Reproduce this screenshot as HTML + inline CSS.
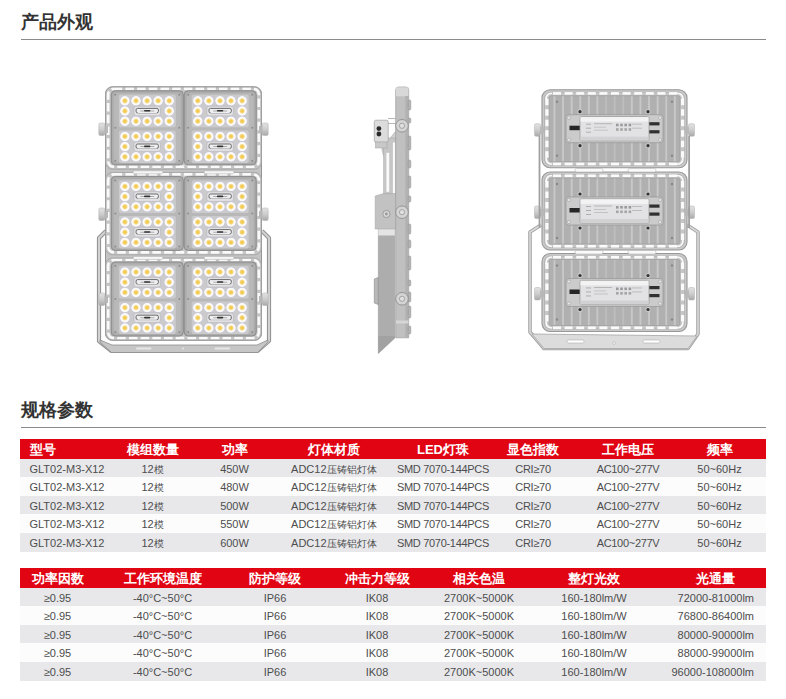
<!DOCTYPE html>
<html><head><meta charset="utf-8"><style>
html,body{margin:0;padding:0;background:#fff;width:786px;height:699px;overflow:hidden;position:relative}
body{font-family:"Liberation Sans",sans-serif}
.t{position:absolute;left:21px;font-size:18px;font-weight:bold;color:#333;line-height:24px;white-space:nowrap}
.ln{position:absolute;left:21px;width:745px;height:1px;background:#8a8a8a}
.hd{position:absolute;left:20px;width:746px;height:20px;background:#e10514}
.rw{position:absolute;left:20px;width:746px}
.g{background:#e8e8eb} .l{background:#fcfcfc}
.th{position:absolute;width:200px;text-align:center;color:#fff;font-size:13px;font-weight:bold;white-space:nowrap}
.td{position:absolute;width:200px;text-align:center;color:#4d4d4d;font-size:11px;white-space:nowrap}
.c{font-size:10px}
</style></head><body>
<div class="t" style="top:10px">产品外观</div>
<div class="ln" style="top:39px"></div>
<svg style="position:absolute;left:0;top:0" width="786" height="400" viewBox="0 0 786 400"><defs><linearGradient id="knob" x1="0" y1="0" x2="0" y2="1"><stop offset="0" stop-color="#e2e2e2"/><stop offset="0.5" stop-color="#cdcdcd"/><stop offset="1" stop-color="#a9a9a9"/></linearGradient><radialGradient id="ledg"><stop offset="0" stop-color="#f1c84a"/><stop offset="0.28" stop-color="#f3ce5c"/><stop offset="0.48" stop-color="#f8e6b2"/><stop offset="0.6" stop-color="#fefcf5"/><stop offset="0.84" stop-color="#f8f7fb"/><stop offset="1" stop-color="#ccc8dc"/></radialGradient></defs><path d="M106 231 L99 238 L99 341 L111.5 351 L257.5 351 L269 341 L269 238 L262 231" fill="none" stroke="#959595" stroke-width="4.2" stroke-linejoin="round"/><path d="M106 231 L99 238 L99 341 L111.5 351 L257.5 351 L269 341 L269 238 L262 231" fill="none" stroke="#d2d2d2" stroke-width="2" stroke-linejoin="round"/><path d="M100 340 L112 345 L257 345 L268 340 L268 342 L257.5 352.5 L111.5 352.5 L100 342 Z" fill="#c6c6c6" stroke="#8e8e8e" stroke-width="0.8"/><rect x="136" y="347.5" width="15.5" height="2" rx="1" fill="#e6e6e6"/><rect x="214.5" y="347.5" width="15.5" height="2" rx="1" fill="#e6e6e6"/><circle cx="183" cy="348.5" r="1" fill="#e6e6e6"/><rect x="105.5" y="86.8" width="156" height="253.5" rx="7" fill="#c4c4c4" stroke="#959595" stroke-width="1"/><rect x="108.2" y="88.8" width="150.6" height="78" rx="5.5" fill="none" stroke="#fafafa" stroke-width="2.6" stroke-dasharray="8.5 3.2"/><rect x="105.5" y="86.8" width="156" height="82.4" rx="7" fill="none" stroke="#a2a2a2" stroke-width="0.8"/><rect x="111.3" y="90.8" width="72" height="74" rx="4" fill="#acacac" stroke="#8a8a8a" stroke-width="1"/><rect x="113.8" y="93.3" width="67" height="69" rx="3" fill="#b8b8b8"/><rect x="118.8" y="94.8" width="57" height="32.5" rx="2" fill="#cbcbce"/><circle cx="124.9" cy="100.8" r="5.1" fill="url(#ledg)"/><circle cx="136.0" cy="100.8" r="5.1" fill="url(#ledg)"/><circle cx="147.1" cy="100.8" r="5.1" fill="url(#ledg)"/><circle cx="158.1" cy="100.8" r="5.1" fill="url(#ledg)"/><circle cx="169.2" cy="100.8" r="5.1" fill="url(#ledg)"/><circle cx="124.9" cy="111.0" r="5.1" fill="url(#ledg)"/><circle cx="169.2" cy="111.0" r="5.1" fill="url(#ledg)"/><circle cx="124.9" cy="121.2" r="5.1" fill="url(#ledg)"/><circle cx="136.0" cy="121.2" r="5.1" fill="url(#ledg)"/><circle cx="147.1" cy="121.2" r="5.1" fill="url(#ledg)"/><circle cx="158.1" cy="121.2" r="5.1" fill="url(#ledg)"/><circle cx="169.2" cy="121.2" r="5.1" fill="url(#ledg)"/><rect x="133.9" y="106.2" width="26.7" height="9.6" rx="2.5" fill="#e2e2e5" stroke="#b4b4b8" stroke-width="0.6"/><rect x="136.1" y="108.4" width="22.3" height="4.4" rx="1.5" fill="#efeff1" stroke="#5c5c5c" stroke-width="0.9"/><rect x="137.8" y="109.5" width="19" height="3.5" fill="#efeff1"/><rect x="140.3" y="110.6" width="14" height="0.8" fill="#9a9a9a"/><rect x="144.0" y="110.0" width="6.4" height="1.6" rx="0.8" fill="#333"/><rect x="118.8" y="130.4" width="57" height="32.5" rx="2" fill="#cbcbce"/><circle cx="124.9" cy="136.4" r="5.1" fill="url(#ledg)"/><circle cx="136.0" cy="136.4" r="5.1" fill="url(#ledg)"/><circle cx="147.1" cy="136.4" r="5.1" fill="url(#ledg)"/><circle cx="158.1" cy="136.4" r="5.1" fill="url(#ledg)"/><circle cx="169.2" cy="136.4" r="5.1" fill="url(#ledg)"/><circle cx="124.9" cy="146.6" r="5.1" fill="url(#ledg)"/><circle cx="169.2" cy="146.6" r="5.1" fill="url(#ledg)"/><circle cx="124.9" cy="156.8" r="5.1" fill="url(#ledg)"/><circle cx="136.0" cy="156.8" r="5.1" fill="url(#ledg)"/><circle cx="147.1" cy="156.8" r="5.1" fill="url(#ledg)"/><circle cx="158.1" cy="156.8" r="5.1" fill="url(#ledg)"/><circle cx="169.2" cy="156.8" r="5.1" fill="url(#ledg)"/><rect x="133.9" y="141.79999999999998" width="26.7" height="9.6" rx="2.5" fill="#e2e2e5" stroke="#b4b4b8" stroke-width="0.6"/><rect x="136.1" y="144.0" width="22.3" height="4.4" rx="1.5" fill="#efeff1" stroke="#5c5c5c" stroke-width="0.9"/><rect x="137.8" y="145.1" width="19" height="3.5" fill="#efeff1"/><rect x="140.3" y="146.2" width="14" height="0.8" fill="#9a9a9a"/><rect x="144.0" y="145.6" width="6.4" height="1.6" rx="0.8" fill="#333"/><circle cx="115.3" cy="94.8" r="1" fill="#8d8d8d"/><circle cx="179.3" cy="94.8" r="1" fill="#8d8d8d"/><circle cx="115.3" cy="160.8" r="1" fill="#8d8d8d"/><circle cx="179.3" cy="160.8" r="1" fill="#8d8d8d"/><circle cx="115.3" cy="127.8" r="1" fill="#8d8d8d"/><circle cx="179.3" cy="127.8" r="1" fill="#8d8d8d"/><rect x="184.2" y="90.8" width="72" height="74" rx="4" fill="#acacac" stroke="#8a8a8a" stroke-width="1"/><rect x="186.7" y="93.3" width="67" height="69" rx="3" fill="#b8b8b8"/><rect x="191.7" y="94.8" width="57" height="32.5" rx="2" fill="#cbcbce"/><circle cx="197.8" cy="100.8" r="5.1" fill="url(#ledg)"/><circle cx="208.9" cy="100.8" r="5.1" fill="url(#ledg)"/><circle cx="220.0" cy="100.8" r="5.1" fill="url(#ledg)"/><circle cx="231.0" cy="100.8" r="5.1" fill="url(#ledg)"/><circle cx="242.1" cy="100.8" r="5.1" fill="url(#ledg)"/><circle cx="197.8" cy="111.0" r="5.1" fill="url(#ledg)"/><circle cx="242.1" cy="111.0" r="5.1" fill="url(#ledg)"/><circle cx="197.8" cy="121.2" r="5.1" fill="url(#ledg)"/><circle cx="208.9" cy="121.2" r="5.1" fill="url(#ledg)"/><circle cx="220.0" cy="121.2" r="5.1" fill="url(#ledg)"/><circle cx="231.0" cy="121.2" r="5.1" fill="url(#ledg)"/><circle cx="242.1" cy="121.2" r="5.1" fill="url(#ledg)"/><rect x="206.79999999999998" y="106.2" width="26.7" height="9.6" rx="2.5" fill="#e2e2e5" stroke="#b4b4b8" stroke-width="0.6"/><rect x="209.0" y="108.4" width="22.3" height="4.4" rx="1.5" fill="#efeff1" stroke="#5c5c5c" stroke-width="0.9"/><rect x="210.7" y="109.5" width="19" height="3.5" fill="#efeff1"/><rect x="213.2" y="110.6" width="14" height="0.8" fill="#9a9a9a"/><rect x="216.89999999999998" y="110.0" width="6.4" height="1.6" rx="0.8" fill="#333"/><rect x="191.7" y="130.4" width="57" height="32.5" rx="2" fill="#cbcbce"/><circle cx="197.8" cy="136.4" r="5.1" fill="url(#ledg)"/><circle cx="208.9" cy="136.4" r="5.1" fill="url(#ledg)"/><circle cx="220.0" cy="136.4" r="5.1" fill="url(#ledg)"/><circle cx="231.0" cy="136.4" r="5.1" fill="url(#ledg)"/><circle cx="242.1" cy="136.4" r="5.1" fill="url(#ledg)"/><circle cx="197.8" cy="146.6" r="5.1" fill="url(#ledg)"/><circle cx="242.1" cy="146.6" r="5.1" fill="url(#ledg)"/><circle cx="197.8" cy="156.8" r="5.1" fill="url(#ledg)"/><circle cx="208.9" cy="156.8" r="5.1" fill="url(#ledg)"/><circle cx="220.0" cy="156.8" r="5.1" fill="url(#ledg)"/><circle cx="231.0" cy="156.8" r="5.1" fill="url(#ledg)"/><circle cx="242.1" cy="156.8" r="5.1" fill="url(#ledg)"/><rect x="206.79999999999998" y="141.79999999999998" width="26.7" height="9.6" rx="2.5" fill="#e2e2e5" stroke="#b4b4b8" stroke-width="0.6"/><rect x="209.0" y="144.0" width="22.3" height="4.4" rx="1.5" fill="#efeff1" stroke="#5c5c5c" stroke-width="0.9"/><rect x="210.7" y="145.1" width="19" height="3.5" fill="#efeff1"/><rect x="213.2" y="146.2" width="14" height="0.8" fill="#9a9a9a"/><rect x="216.89999999999998" y="145.6" width="6.4" height="1.6" rx="0.8" fill="#333"/><circle cx="188.2" cy="94.8" r="1" fill="#8d8d8d"/><circle cx="252.2" cy="94.8" r="1" fill="#8d8d8d"/><circle cx="188.2" cy="160.8" r="1" fill="#8d8d8d"/><circle cx="252.2" cy="160.8" r="1" fill="#8d8d8d"/><circle cx="188.2" cy="127.8" r="1" fill="#8d8d8d"/><circle cx="252.2" cy="127.8" r="1" fill="#8d8d8d"/><rect x="104" y="126" width="4" height="7" fill="#b8b8b8"/><rect x="259" y="126" width="4" height="7" fill="#b8b8b8"/><rect x="98.8" y="123" width="6" height="12.5" rx="1.5" fill="url(#knob)" stroke="#b0b0b0" stroke-width="0.5"/><rect x="262.2" y="123" width="6" height="12.5" rx="1.5" fill="url(#knob)" stroke="#b0b0b0" stroke-width="0.5"/><rect x="108.2" y="174.4" width="150.6" height="78" rx="5.5" fill="none" stroke="#fafafa" stroke-width="2.6" stroke-dasharray="8.5 3.2"/><rect x="105.5" y="172.4" width="156" height="82.4" rx="7" fill="none" stroke="#a2a2a2" stroke-width="0.8"/><rect x="111.3" y="176.4" width="72" height="74" rx="4" fill="#acacac" stroke="#8a8a8a" stroke-width="1"/><rect x="113.8" y="178.9" width="67" height="69" rx="3" fill="#b8b8b8"/><rect x="118.8" y="180.4" width="57" height="32.5" rx="2" fill="#cbcbce"/><circle cx="124.9" cy="186.4" r="5.1" fill="url(#ledg)"/><circle cx="136.0" cy="186.4" r="5.1" fill="url(#ledg)"/><circle cx="147.1" cy="186.4" r="5.1" fill="url(#ledg)"/><circle cx="158.1" cy="186.4" r="5.1" fill="url(#ledg)"/><circle cx="169.2" cy="186.4" r="5.1" fill="url(#ledg)"/><circle cx="124.9" cy="196.6" r="5.1" fill="url(#ledg)"/><circle cx="169.2" cy="196.6" r="5.1" fill="url(#ledg)"/><circle cx="124.9" cy="206.8" r="5.1" fill="url(#ledg)"/><circle cx="136.0" cy="206.8" r="5.1" fill="url(#ledg)"/><circle cx="147.1" cy="206.8" r="5.1" fill="url(#ledg)"/><circle cx="158.1" cy="206.8" r="5.1" fill="url(#ledg)"/><circle cx="169.2" cy="206.8" r="5.1" fill="url(#ledg)"/><rect x="133.9" y="191.79999999999998" width="26.7" height="9.6" rx="2.5" fill="#e2e2e5" stroke="#b4b4b8" stroke-width="0.6"/><rect x="136.1" y="194.0" width="22.3" height="4.4" rx="1.5" fill="#efeff1" stroke="#5c5c5c" stroke-width="0.9"/><rect x="137.8" y="195.1" width="19" height="3.5" fill="#efeff1"/><rect x="140.3" y="196.2" width="14" height="0.8" fill="#9a9a9a"/><rect x="144.0" y="195.6" width="6.4" height="1.6" rx="0.8" fill="#333"/><rect x="118.8" y="216.0" width="57" height="32.5" rx="2" fill="#cbcbce"/><circle cx="124.9" cy="222.0" r="5.1" fill="url(#ledg)"/><circle cx="136.0" cy="222.0" r="5.1" fill="url(#ledg)"/><circle cx="147.1" cy="222.0" r="5.1" fill="url(#ledg)"/><circle cx="158.1" cy="222.0" r="5.1" fill="url(#ledg)"/><circle cx="169.2" cy="222.0" r="5.1" fill="url(#ledg)"/><circle cx="124.9" cy="232.2" r="5.1" fill="url(#ledg)"/><circle cx="169.2" cy="232.2" r="5.1" fill="url(#ledg)"/><circle cx="124.9" cy="242.4" r="5.1" fill="url(#ledg)"/><circle cx="136.0" cy="242.4" r="5.1" fill="url(#ledg)"/><circle cx="147.1" cy="242.4" r="5.1" fill="url(#ledg)"/><circle cx="158.1" cy="242.4" r="5.1" fill="url(#ledg)"/><circle cx="169.2" cy="242.4" r="5.1" fill="url(#ledg)"/><rect x="133.9" y="227.39999999999998" width="26.7" height="9.6" rx="2.5" fill="#e2e2e5" stroke="#b4b4b8" stroke-width="0.6"/><rect x="136.1" y="229.6" width="22.3" height="4.4" rx="1.5" fill="#efeff1" stroke="#5c5c5c" stroke-width="0.9"/><rect x="137.8" y="230.7" width="19" height="3.5" fill="#efeff1"/><rect x="140.3" y="231.79999999999998" width="14" height="0.8" fill="#9a9a9a"/><rect x="144.0" y="231.2" width="6.4" height="1.6" rx="0.8" fill="#333"/><circle cx="115.3" cy="180.4" r="1" fill="#8d8d8d"/><circle cx="179.3" cy="180.4" r="1" fill="#8d8d8d"/><circle cx="115.3" cy="246.4" r="1" fill="#8d8d8d"/><circle cx="179.3" cy="246.4" r="1" fill="#8d8d8d"/><circle cx="115.3" cy="213.4" r="1" fill="#8d8d8d"/><circle cx="179.3" cy="213.4" r="1" fill="#8d8d8d"/><rect x="184.2" y="176.4" width="72" height="74" rx="4" fill="#acacac" stroke="#8a8a8a" stroke-width="1"/><rect x="186.7" y="178.9" width="67" height="69" rx="3" fill="#b8b8b8"/><rect x="191.7" y="180.4" width="57" height="32.5" rx="2" fill="#cbcbce"/><circle cx="197.8" cy="186.4" r="5.1" fill="url(#ledg)"/><circle cx="208.9" cy="186.4" r="5.1" fill="url(#ledg)"/><circle cx="220.0" cy="186.4" r="5.1" fill="url(#ledg)"/><circle cx="231.0" cy="186.4" r="5.1" fill="url(#ledg)"/><circle cx="242.1" cy="186.4" r="5.1" fill="url(#ledg)"/><circle cx="197.8" cy="196.6" r="5.1" fill="url(#ledg)"/><circle cx="242.1" cy="196.6" r="5.1" fill="url(#ledg)"/><circle cx="197.8" cy="206.8" r="5.1" fill="url(#ledg)"/><circle cx="208.9" cy="206.8" r="5.1" fill="url(#ledg)"/><circle cx="220.0" cy="206.8" r="5.1" fill="url(#ledg)"/><circle cx="231.0" cy="206.8" r="5.1" fill="url(#ledg)"/><circle cx="242.1" cy="206.8" r="5.1" fill="url(#ledg)"/><rect x="206.79999999999998" y="191.79999999999998" width="26.7" height="9.6" rx="2.5" fill="#e2e2e5" stroke="#b4b4b8" stroke-width="0.6"/><rect x="209.0" y="194.0" width="22.3" height="4.4" rx="1.5" fill="#efeff1" stroke="#5c5c5c" stroke-width="0.9"/><rect x="210.7" y="195.1" width="19" height="3.5" fill="#efeff1"/><rect x="213.2" y="196.2" width="14" height="0.8" fill="#9a9a9a"/><rect x="216.89999999999998" y="195.6" width="6.4" height="1.6" rx="0.8" fill="#333"/><rect x="191.7" y="216.0" width="57" height="32.5" rx="2" fill="#cbcbce"/><circle cx="197.8" cy="222.0" r="5.1" fill="url(#ledg)"/><circle cx="208.9" cy="222.0" r="5.1" fill="url(#ledg)"/><circle cx="220.0" cy="222.0" r="5.1" fill="url(#ledg)"/><circle cx="231.0" cy="222.0" r="5.1" fill="url(#ledg)"/><circle cx="242.1" cy="222.0" r="5.1" fill="url(#ledg)"/><circle cx="197.8" cy="232.2" r="5.1" fill="url(#ledg)"/><circle cx="242.1" cy="232.2" r="5.1" fill="url(#ledg)"/><circle cx="197.8" cy="242.4" r="5.1" fill="url(#ledg)"/><circle cx="208.9" cy="242.4" r="5.1" fill="url(#ledg)"/><circle cx="220.0" cy="242.4" r="5.1" fill="url(#ledg)"/><circle cx="231.0" cy="242.4" r="5.1" fill="url(#ledg)"/><circle cx="242.1" cy="242.4" r="5.1" fill="url(#ledg)"/><rect x="206.79999999999998" y="227.39999999999998" width="26.7" height="9.6" rx="2.5" fill="#e2e2e5" stroke="#b4b4b8" stroke-width="0.6"/><rect x="209.0" y="229.6" width="22.3" height="4.4" rx="1.5" fill="#efeff1" stroke="#5c5c5c" stroke-width="0.9"/><rect x="210.7" y="230.7" width="19" height="3.5" fill="#efeff1"/><rect x="213.2" y="231.79999999999998" width="14" height="0.8" fill="#9a9a9a"/><rect x="216.89999999999998" y="231.2" width="6.4" height="1.6" rx="0.8" fill="#333"/><circle cx="188.2" cy="180.4" r="1" fill="#8d8d8d"/><circle cx="252.2" cy="180.4" r="1" fill="#8d8d8d"/><circle cx="188.2" cy="246.4" r="1" fill="#8d8d8d"/><circle cx="252.2" cy="246.4" r="1" fill="#8d8d8d"/><circle cx="188.2" cy="213.4" r="1" fill="#8d8d8d"/><circle cx="252.2" cy="213.4" r="1" fill="#8d8d8d"/><rect x="104" y="211" width="4" height="7" fill="#b8b8b8"/><rect x="259" y="211" width="4" height="7" fill="#b8b8b8"/><rect x="98.8" y="208" width="6" height="12.5" rx="1.5" fill="url(#knob)" stroke="#b0b0b0" stroke-width="0.5"/><rect x="262.2" y="208" width="6" height="12.5" rx="1.5" fill="url(#knob)" stroke="#b0b0b0" stroke-width="0.5"/><rect x="108.2" y="260.0" width="150.6" height="78" rx="5.5" fill="none" stroke="#fafafa" stroke-width="2.6" stroke-dasharray="8.5 3.2"/><rect x="105.5" y="258.0" width="156" height="82.4" rx="7" fill="none" stroke="#a2a2a2" stroke-width="0.8"/><rect x="111.3" y="262.0" width="72" height="74" rx="4" fill="#acacac" stroke="#8a8a8a" stroke-width="1"/><rect x="113.8" y="264.5" width="67" height="69" rx="3" fill="#b8b8b8"/><rect x="118.8" y="266.0" width="57" height="32.5" rx="2" fill="#cbcbce"/><circle cx="124.9" cy="272.0" r="5.1" fill="url(#ledg)"/><circle cx="136.0" cy="272.0" r="5.1" fill="url(#ledg)"/><circle cx="147.1" cy="272.0" r="5.1" fill="url(#ledg)"/><circle cx="158.1" cy="272.0" r="5.1" fill="url(#ledg)"/><circle cx="169.2" cy="272.0" r="5.1" fill="url(#ledg)"/><circle cx="124.9" cy="282.2" r="5.1" fill="url(#ledg)"/><circle cx="169.2" cy="282.2" r="5.1" fill="url(#ledg)"/><circle cx="124.9" cy="292.4" r="5.1" fill="url(#ledg)"/><circle cx="136.0" cy="292.4" r="5.1" fill="url(#ledg)"/><circle cx="147.1" cy="292.4" r="5.1" fill="url(#ledg)"/><circle cx="158.1" cy="292.4" r="5.1" fill="url(#ledg)"/><circle cx="169.2" cy="292.4" r="5.1" fill="url(#ledg)"/><rect x="133.9" y="277.4" width="26.7" height="9.6" rx="2.5" fill="#e2e2e5" stroke="#b4b4b8" stroke-width="0.6"/><rect x="136.1" y="279.59999999999997" width="22.3" height="4.4" rx="1.5" fill="#efeff1" stroke="#5c5c5c" stroke-width="0.9"/><rect x="137.8" y="280.7" width="19" height="3.5" fill="#efeff1"/><rect x="140.3" y="281.8" width="14" height="0.8" fill="#9a9a9a"/><rect x="144.0" y="281.2" width="6.4" height="1.6" rx="0.8" fill="#333"/><rect x="118.8" y="301.6" width="57" height="32.5" rx="2" fill="#cbcbce"/><circle cx="124.9" cy="307.6" r="5.1" fill="url(#ledg)"/><circle cx="136.0" cy="307.6" r="5.1" fill="url(#ledg)"/><circle cx="147.1" cy="307.6" r="5.1" fill="url(#ledg)"/><circle cx="158.1" cy="307.6" r="5.1" fill="url(#ledg)"/><circle cx="169.2" cy="307.6" r="5.1" fill="url(#ledg)"/><circle cx="124.9" cy="317.8" r="5.1" fill="url(#ledg)"/><circle cx="169.2" cy="317.8" r="5.1" fill="url(#ledg)"/><circle cx="124.9" cy="328.0" r="5.1" fill="url(#ledg)"/><circle cx="136.0" cy="328.0" r="5.1" fill="url(#ledg)"/><circle cx="147.1" cy="328.0" r="5.1" fill="url(#ledg)"/><circle cx="158.1" cy="328.0" r="5.1" fill="url(#ledg)"/><circle cx="169.2" cy="328.0" r="5.1" fill="url(#ledg)"/><rect x="133.9" y="313.0" width="26.7" height="9.6" rx="2.5" fill="#e2e2e5" stroke="#b4b4b8" stroke-width="0.6"/><rect x="136.1" y="315.2" width="22.3" height="4.4" rx="1.5" fill="#efeff1" stroke="#5c5c5c" stroke-width="0.9"/><rect x="137.8" y="316.3" width="19" height="3.5" fill="#efeff1"/><rect x="140.3" y="317.40000000000003" width="14" height="0.8" fill="#9a9a9a"/><rect x="144.0" y="316.8" width="6.4" height="1.6" rx="0.8" fill="#333"/><circle cx="115.3" cy="266.0" r="1" fill="#8d8d8d"/><circle cx="179.3" cy="266.0" r="1" fill="#8d8d8d"/><circle cx="115.3" cy="332.0" r="1" fill="#8d8d8d"/><circle cx="179.3" cy="332.0" r="1" fill="#8d8d8d"/><circle cx="115.3" cy="299.0" r="1" fill="#8d8d8d"/><circle cx="179.3" cy="299.0" r="1" fill="#8d8d8d"/><rect x="184.2" y="262.0" width="72" height="74" rx="4" fill="#acacac" stroke="#8a8a8a" stroke-width="1"/><rect x="186.7" y="264.5" width="67" height="69" rx="3" fill="#b8b8b8"/><rect x="191.7" y="266.0" width="57" height="32.5" rx="2" fill="#cbcbce"/><circle cx="197.8" cy="272.0" r="5.1" fill="url(#ledg)"/><circle cx="208.9" cy="272.0" r="5.1" fill="url(#ledg)"/><circle cx="220.0" cy="272.0" r="5.1" fill="url(#ledg)"/><circle cx="231.0" cy="272.0" r="5.1" fill="url(#ledg)"/><circle cx="242.1" cy="272.0" r="5.1" fill="url(#ledg)"/><circle cx="197.8" cy="282.2" r="5.1" fill="url(#ledg)"/><circle cx="242.1" cy="282.2" r="5.1" fill="url(#ledg)"/><circle cx="197.8" cy="292.4" r="5.1" fill="url(#ledg)"/><circle cx="208.9" cy="292.4" r="5.1" fill="url(#ledg)"/><circle cx="220.0" cy="292.4" r="5.1" fill="url(#ledg)"/><circle cx="231.0" cy="292.4" r="5.1" fill="url(#ledg)"/><circle cx="242.1" cy="292.4" r="5.1" fill="url(#ledg)"/><rect x="206.79999999999998" y="277.4" width="26.7" height="9.6" rx="2.5" fill="#e2e2e5" stroke="#b4b4b8" stroke-width="0.6"/><rect x="209.0" y="279.59999999999997" width="22.3" height="4.4" rx="1.5" fill="#efeff1" stroke="#5c5c5c" stroke-width="0.9"/><rect x="210.7" y="280.7" width="19" height="3.5" fill="#efeff1"/><rect x="213.2" y="281.8" width="14" height="0.8" fill="#9a9a9a"/><rect x="216.89999999999998" y="281.2" width="6.4" height="1.6" rx="0.8" fill="#333"/><rect x="191.7" y="301.6" width="57" height="32.5" rx="2" fill="#cbcbce"/><circle cx="197.8" cy="307.6" r="5.1" fill="url(#ledg)"/><circle cx="208.9" cy="307.6" r="5.1" fill="url(#ledg)"/><circle cx="220.0" cy="307.6" r="5.1" fill="url(#ledg)"/><circle cx="231.0" cy="307.6" r="5.1" fill="url(#ledg)"/><circle cx="242.1" cy="307.6" r="5.1" fill="url(#ledg)"/><circle cx="197.8" cy="317.8" r="5.1" fill="url(#ledg)"/><circle cx="242.1" cy="317.8" r="5.1" fill="url(#ledg)"/><circle cx="197.8" cy="328.0" r="5.1" fill="url(#ledg)"/><circle cx="208.9" cy="328.0" r="5.1" fill="url(#ledg)"/><circle cx="220.0" cy="328.0" r="5.1" fill="url(#ledg)"/><circle cx="231.0" cy="328.0" r="5.1" fill="url(#ledg)"/><circle cx="242.1" cy="328.0" r="5.1" fill="url(#ledg)"/><rect x="206.79999999999998" y="313.0" width="26.7" height="9.6" rx="2.5" fill="#e2e2e5" stroke="#b4b4b8" stroke-width="0.6"/><rect x="209.0" y="315.2" width="22.3" height="4.4" rx="1.5" fill="#efeff1" stroke="#5c5c5c" stroke-width="0.9"/><rect x="210.7" y="316.3" width="19" height="3.5" fill="#efeff1"/><rect x="213.2" y="317.40000000000003" width="14" height="0.8" fill="#9a9a9a"/><rect x="216.89999999999998" y="316.8" width="6.4" height="1.6" rx="0.8" fill="#333"/><circle cx="188.2" cy="266.0" r="1" fill="#8d8d8d"/><circle cx="252.2" cy="266.0" r="1" fill="#8d8d8d"/><circle cx="188.2" cy="332.0" r="1" fill="#8d8d8d"/><circle cx="252.2" cy="332.0" r="1" fill="#8d8d8d"/><circle cx="188.2" cy="299.0" r="1" fill="#8d8d8d"/><circle cx="252.2" cy="299.0" r="1" fill="#8d8d8d"/><rect x="104" y="296" width="4" height="7" fill="#b8b8b8"/><rect x="259" y="296" width="4" height="7" fill="#b8b8b8"/><rect x="98.8" y="293" width="6" height="12.5" rx="1.5" fill="url(#knob)" stroke="#b0b0b0" stroke-width="0.5"/><rect x="262.2" y="293" width="6" height="12.5" rx="1.5" fill="url(#knob)" stroke="#b0b0b0" stroke-width="0.5"/><rect x="133" y="170.8" width="30" height="3" rx="1.5" fill="#f6f6f6" stroke="#a8a8a8" stroke-width="0.5"/><rect x="204" y="170.8" width="30" height="3" rx="1.5" fill="#f6f6f6" stroke="#a8a8a8" stroke-width="0.5"/><rect x="133" y="256.4" width="30" height="3" rx="1.5" fill="#f6f6f6" stroke="#a8a8a8" stroke-width="0.5"/><rect x="204" y="256.4" width="30" height="3" rx="1.5" fill="#f6f6f6" stroke="#a8a8a8" stroke-width="0.5"/><path d="M378.3 229 L394.8 229 L394.8 338 L378.3 353.5 Z" fill="#adadad" stroke="#959595" stroke-width="0.5"/><path d="M378.3 336 L394.8 336 L394.8 338 L378.3 353.5 Z" fill="#a2a2a2"/><rect x="378.3" y="229" width="16.5" height="6.5" fill="#e4e4e4"/><path d="M374.3 279 L378.3 277.5 L378.3 304.5 L374.3 303 Z" fill="#b8b8b8" stroke="#888" stroke-width="0.6"/><path d="M381.7 149 L395.7 131 L395.7 140 L383.6 156 Z" fill="#cfcfcf" stroke="#a8a8a8" stroke-width="0.5"/><rect x="383.6" y="138" width="12.1" height="60" fill="#c6c6c6" stroke="#a5a5a5" stroke-width="0.5"/><rect x="386.4" y="152.8" width="2.8" height="39" fill="#fafafa"/><rect x="392.9" y="142.5" width="2.4" height="55.5" fill="#fafafa"/><path d="M375.2 196 L383.6 193.6 L395.7 193.6 L395.7 229 L375.2 229 Z" fill="#c2c2c2" stroke="#a0a0a0" stroke-width="0.5"/><circle cx="386.4" cy="214" r="3.6" fill="#d6d6d6" stroke="#8a8a8a" stroke-width="0.7"/><circle cx="386.4" cy="214" r="1.4" fill="#999"/><path d="M395.7 90 Q395.7 87 398.5 87 L406 87 Q408.7 87 408.7 90 L408.7 337.8 L395.7 337.8 Z" fill="#c0c0c0" stroke="#9e9e9e" stroke-width="0.7"/><rect x="396" y="87.3" width="12.4" height="9" fill="#d8d8d8"/><rect x="405.2" y="96" width="3.5" height="241.8" fill="#b2b2b2"/><rect x="396" y="320.5" width="12.4" height="3" fill="#d6d6d6"/><rect x="408.2" y="100" width="2.6" height="10" rx="1.2" fill="#b4b4b4" stroke="#909090" stroke-width="0.5"/><rect x="408.2" y="118" width="2.6" height="5" rx="1.2" fill="#b4b4b4" stroke="#909090" stroke-width="0.5"/><rect x="408.2" y="136" width="2.6" height="14" rx="1.2" fill="#b4b4b4" stroke="#909090" stroke-width="0.5"/><rect x="408.2" y="160" width="2.6" height="8" rx="1.2" fill="#b4b4b4" stroke="#909090" stroke-width="0.5"/><rect x="408.2" y="176" width="2.6" height="12" rx="1.2" fill="#b4b4b4" stroke="#909090" stroke-width="0.5"/><rect x="408.2" y="196" width="2.6" height="6" rx="1.2" fill="#b4b4b4" stroke="#909090" stroke-width="0.5"/><rect x="408.2" y="224" width="2.6" height="10" rx="1.2" fill="#b4b4b4" stroke="#909090" stroke-width="0.5"/><rect x="408.2" y="240" width="2.6" height="8" rx="1.2" fill="#b4b4b4" stroke="#909090" stroke-width="0.5"/><rect x="408.2" y="256" width="2.6" height="14" rx="1.2" fill="#b4b4b4" stroke="#909090" stroke-width="0.5"/><rect x="408.2" y="280" width="2.6" height="6" rx="1.2" fill="#b4b4b4" stroke="#909090" stroke-width="0.5"/><rect x="408.2" y="292" width="2.6" height="10" rx="1.2" fill="#b4b4b4" stroke="#909090" stroke-width="0.5"/><rect x="408.2" y="306" width="2.6" height="12" rx="1.2" fill="#b4b4b4" stroke="#909090" stroke-width="0.5"/><rect x="408.2" y="326" width="2.6" height="8" rx="1.2" fill="#b4b4b4" stroke="#909090" stroke-width="0.5"/><circle cx="402" cy="125.8" r="6.3" fill="#d4d4d4" stroke="#8e8e8e" stroke-width="0.9"/><circle cx="402" cy="125.8" r="2.6" fill="#e0e0e0" stroke="#8e8e8e" stroke-width="0.7"/><circle cx="402" cy="212.2" r="6.3" fill="#d4d4d4" stroke="#8e8e8e" stroke-width="0.9"/><circle cx="402" cy="212.2" r="2.6" fill="#e0e0e0" stroke="#8e8e8e" stroke-width="0.7"/><circle cx="402" cy="298.8" r="6.3" fill="#d4d4d4" stroke="#8e8e8e" stroke-width="0.9"/><circle cx="402" cy="298.8" r="2.6" fill="#e0e0e0" stroke="#8e8e8e" stroke-width="0.7"/><line x1="388" y1="118.5" x2="395.7" y2="118.5" stroke="#9a9a9a" stroke-width="0.7"/><line x1="388" y1="123.5" x2="395.7" y2="123.5" stroke="#9a9a9a" stroke-width="0.7"/><rect x="374.3" y="120.2" width="13.9" height="22" rx="1.5" fill="#dcdcdc" stroke="#a0a0a0" stroke-width="0.7"/><rect x="375.5" y="142" width="11.5" height="6" fill="#c8c8c8" stroke="#a0a0a0" stroke-width="0.5"/><circle cx="378.9" cy="128.6" r="2.4" fill="#2a2a2a"/><circle cx="378.9" cy="134" r="2.4" fill="#2a2a2a"/><path d="M541 225 L530 232 L530 332 L544 348.5 L688 348.5 L698 334 L698 232 L687 225" fill="none" stroke="#a5a5a5" stroke-width="3.6" stroke-linejoin="round"/><path d="M541 225 L530 232 L530 332 L544 348.5 L688 348.5 L698 334 L698 232 L687 225" fill="none" stroke="#d9d9d9" stroke-width="1.6" stroke-linejoin="round"/><path d="M532 334 L544 348.5 L688 348.5 L697 336 Z" fill="#dcdcdc" stroke="#a5a5a5" stroke-width="0.8"/><rect x="567" y="340" width="17" height="3" rx="1.5" fill="#fff" stroke="#a0a0a0" stroke-width="0.5"/><rect x="643" y="340" width="17" height="3" rx="1.5" fill="#fff" stroke="#a0a0a0" stroke-width="0.5"/><circle cx="614" cy="343" r="1.3" fill="#fff" stroke="#a0a0a0" stroke-width="0.5"/><rect x="542" y="89.7" width="145" height="78" rx="8" fill="#c9c9c9" stroke="#989898" stroke-width="1.1"/><rect x="544.5" y="92.2" width="140" height="73" rx="6" fill="#c6c6c6" stroke="#a8a8a8" stroke-width="0.6"/><rect x="549" y="95.7" width="131" height="66" rx="2" fill="#b0b0b0" stroke="#9a9a9a" stroke-width="0.6"/><rect x="553.0" y="92.10000000000001" width="8" height="2.6" fill="#fbfbfb"/><rect x="553.0" y="162.7" width="8" height="2.6" fill="#fbfbfb"/><rect x="564.6" y="92.10000000000001" width="8" height="2.6" fill="#fbfbfb"/><rect x="564.6" y="162.7" width="8" height="2.6" fill="#fbfbfb"/><rect x="576.2" y="92.10000000000001" width="8" height="2.6" fill="#fbfbfb"/><rect x="576.2" y="162.7" width="8" height="2.6" fill="#fbfbfb"/><rect x="587.8" y="92.10000000000001" width="8" height="2.6" fill="#fbfbfb"/><rect x="587.8" y="162.7" width="8" height="2.6" fill="#fbfbfb"/><rect x="599.4" y="92.10000000000001" width="8" height="2.6" fill="#fbfbfb"/><rect x="599.4" y="162.7" width="8" height="2.6" fill="#fbfbfb"/><rect x="611.0" y="92.10000000000001" width="8" height="2.6" fill="#fbfbfb"/><rect x="611.0" y="162.7" width="8" height="2.6" fill="#fbfbfb"/><rect x="622.6" y="92.10000000000001" width="8" height="2.6" fill="#fbfbfb"/><rect x="622.6" y="162.7" width="8" height="2.6" fill="#fbfbfb"/><rect x="634.2" y="92.10000000000001" width="8" height="2.6" fill="#fbfbfb"/><rect x="634.2" y="162.7" width="8" height="2.6" fill="#fbfbfb"/><rect x="645.8" y="92.10000000000001" width="8" height="2.6" fill="#fbfbfb"/><rect x="645.8" y="162.7" width="8" height="2.6" fill="#fbfbfb"/><rect x="657.4" y="92.10000000000001" width="8" height="2.6" fill="#fbfbfb"/><rect x="657.4" y="162.7" width="8" height="2.6" fill="#fbfbfb"/><rect x="669.0" y="92.10000000000001" width="8" height="2.6" fill="#fbfbfb"/><rect x="669.0" y="162.7" width="8" height="2.6" fill="#fbfbfb"/><rect x="545.3" y="98.7" width="3.2" height="6.5" fill="#fbfbfb"/><rect x="681" y="98.7" width="3.2" height="6.5" fill="#fbfbfb"/><rect x="545.3" y="109.2" width="3.2" height="6.5" fill="#fbfbfb"/><rect x="681" y="109.2" width="3.2" height="6.5" fill="#fbfbfb"/><rect x="545.3" y="119.7" width="3.2" height="6.5" fill="#fbfbfb"/><rect x="681" y="119.7" width="3.2" height="6.5" fill="#fbfbfb"/><rect x="545.3" y="130.2" width="3.2" height="6.5" fill="#fbfbfb"/><rect x="681" y="130.2" width="3.2" height="6.5" fill="#fbfbfb"/><rect x="545.3" y="140.7" width="3.2" height="6.5" fill="#fbfbfb"/><rect x="681" y="140.7" width="3.2" height="6.5" fill="#fbfbfb"/><rect x="545.3" y="151.2" width="3.2" height="6.5" fill="#fbfbfb"/><rect x="681" y="151.2" width="3.2" height="6.5" fill="#fbfbfb"/><path d="M546 99.7 Q546 93.2 552 93.2" fill="none" stroke="#fbfbfb" stroke-width="1.6"/><path d="M683 99.7 Q683 93.2 677 93.2" fill="none" stroke="#fbfbfb" stroke-width="1.6"/><path d="M546 157.7 Q546 164.2 552 164.2" fill="none" stroke="#fbfbfb" stroke-width="1.6"/><path d="M683 157.7 Q683 164.2 677 164.2" fill="none" stroke="#fbfbfb" stroke-width="1.6"/><rect x="553.5" y="96.2" width="1.9" height="65" fill="#c8c8c8"/><rect x="562.1" y="96.2" width="1.9" height="65" fill="#c8c8c8"/><rect x="570.7" y="96.2" width="1.9" height="65" fill="#c8c8c8"/><rect x="579.3" y="96.2" width="1.9" height="65" fill="#c8c8c8"/><rect x="587.9" y="96.2" width="1.9" height="65" fill="#c8c8c8"/><rect x="596.5" y="96.2" width="1.9" height="65" fill="#c8c8c8"/><rect x="605.1" y="96.2" width="1.9" height="65" fill="#c8c8c8"/><rect x="613.7" y="96.2" width="1.9" height="65" fill="#c8c8c8"/><rect x="622.3" y="96.2" width="1.9" height="65" fill="#c8c8c8"/><rect x="630.9" y="96.2" width="1.9" height="65" fill="#c8c8c8"/><rect x="639.5" y="96.2" width="1.9" height="65" fill="#c8c8c8"/><rect x="648.1" y="96.2" width="1.9" height="65" fill="#c8c8c8"/><rect x="656.7" y="96.2" width="1.9" height="65" fill="#c8c8c8"/><rect x="665.3" y="96.2" width="1.9" height="65" fill="#c8c8c8"/><rect x="673.9" y="96.2" width="1.9" height="65" fill="#c8c8c8"/><rect x="598" y="96.2" width="32" height="65" fill="#b2b2b2" opacity="0.5"/><circle cx="580" cy="111.69999999999999" r="2.6" fill="#c8c8c8"/><circle cx="580" cy="111.69999999999999" r="1.6" fill="#333"/><circle cx="580" cy="145.7" r="2.6" fill="#c8c8c8"/><circle cx="580" cy="145.7" r="1.6" fill="#333"/><circle cx="648" cy="111.69999999999999" r="2.6" fill="#c8c8c8"/><circle cx="648" cy="111.69999999999999" r="1.6" fill="#333"/><circle cx="648" cy="145.7" r="2.6" fill="#c8c8c8"/><circle cx="648" cy="145.7" r="1.6" fill="#333"/><circle cx="557" cy="101.69999999999999" r="1.2" fill="#888"/><circle cx="557" cy="155.7" r="1.2" fill="#888"/><circle cx="672" cy="101.69999999999999" r="1.2" fill="#888"/><circle cx="672" cy="155.7" r="1.2" fill="#888"/><rect x="566" y="114.69999999999999" width="97" height="28" rx="2.5" fill="#cbcbcb" stroke="#9a9a9a" stroke-width="0.8"/><circle cx="569" cy="117.69999999999999" r="1.6" fill="#e6e6e6" stroke="#999" stroke-width="0.5"/><circle cx="569" cy="139.7" r="1.6" fill="#e6e6e6" stroke="#999" stroke-width="0.5"/><circle cx="660" cy="117.69999999999999" r="1.6" fill="#e6e6e6" stroke="#999" stroke-width="0.5"/><circle cx="660" cy="139.7" r="1.6" fill="#e6e6e6" stroke="#999" stroke-width="0.5"/><rect x="569.5" y="125.69999999999999" width="10.5" height="4.5" fill="#262626"/><rect x="649" y="122.19999999999999" width="10.5" height="3.2" fill="#303030"/><rect x="649" y="130.2" width="10.5" height="3.2" fill="#303030"/><rect x="580" y="116.49999999999999" width="69" height="24.4" rx="1.5" fill="#e2e2e4" stroke="#9e9e9e" stroke-width="0.8"/><rect x="580.6" y="117.1" width="67.8" height="4.5" fill="#f3f3f4"/><rect x="580.6" y="136.7" width="67.8" height="3.6" fill="#d2d2d4"/><rect x="586" y="123.69999999999999" width="5" height="0.9" fill="#a8a8a8"/><rect x="586" y="127.69999999999999" width="5" height="0.9" fill="#a8a8a8"/><rect x="586" y="131.7" width="5" height="0.9" fill="#a8a8a8"/><rect x="594" y="123.19999999999999" width="18" height="1" fill="#b5b5b5"/><rect x="594" y="126.69999999999999" width="12" height="0.9" fill="#c0c0c0"/><rect x="594" y="129.7" width="14" height="0.9" fill="#c0c0c0"/><rect x="616.0" y="123.69999999999999" width="2.6" height="2.6" fill="#9a9a9a"/><rect x="616.0" y="128.2" width="2.6" height="2.6" fill="#a5a5a5"/><rect x="620.2" y="123.69999999999999" width="2.6" height="2.6" fill="#9a9a9a"/><rect x="620.2" y="128.2" width="2.6" height="2.6" fill="#a5a5a5"/><rect x="624.4" y="123.69999999999999" width="2.6" height="2.6" fill="#9a9a9a"/><rect x="624.4" y="128.2" width="2.6" height="2.6" fill="#a5a5a5"/><rect x="628.6" y="123.69999999999999" width="2.6" height="2.6" fill="#9a9a9a"/><rect x="628.6" y="128.2" width="2.6" height="2.6" fill="#a5a5a5"/><rect x="632" y="123.69999999999999" width="10" height="0.9" fill="#b8b8b8"/><rect x="632" y="127.69999999999999" width="10" height="0.9" fill="#b8b8b8"/><rect x="540" y="126.7" width="4" height="7" fill="#b8b8b8"/><rect x="685" y="126.7" width="4" height="7" fill="#b8b8b8"/><rect x="534.5" y="123.7" width="6" height="12.5" rx="1.5" fill="url(#knob)" stroke="#b0b0b0" stroke-width="0.5"/><rect x="688.5" y="123.7" width="6" height="12.5" rx="1.5" fill="url(#knob)" stroke="#b0b0b0" stroke-width="0.5"/><rect x="542" y="172" width="145" height="78" rx="8" fill="#c9c9c9" stroke="#989898" stroke-width="1.1"/><rect x="544.5" y="174.5" width="140" height="73" rx="6" fill="#c6c6c6" stroke="#a8a8a8" stroke-width="0.6"/><rect x="549" y="178" width="131" height="66" rx="2" fill="#b0b0b0" stroke="#9a9a9a" stroke-width="0.6"/><rect x="553.0" y="174.4" width="8" height="2.6" fill="#fbfbfb"/><rect x="553.0" y="245" width="8" height="2.6" fill="#fbfbfb"/><rect x="564.6" y="174.4" width="8" height="2.6" fill="#fbfbfb"/><rect x="564.6" y="245" width="8" height="2.6" fill="#fbfbfb"/><rect x="576.2" y="174.4" width="8" height="2.6" fill="#fbfbfb"/><rect x="576.2" y="245" width="8" height="2.6" fill="#fbfbfb"/><rect x="587.8" y="174.4" width="8" height="2.6" fill="#fbfbfb"/><rect x="587.8" y="245" width="8" height="2.6" fill="#fbfbfb"/><rect x="599.4" y="174.4" width="8" height="2.6" fill="#fbfbfb"/><rect x="599.4" y="245" width="8" height="2.6" fill="#fbfbfb"/><rect x="611.0" y="174.4" width="8" height="2.6" fill="#fbfbfb"/><rect x="611.0" y="245" width="8" height="2.6" fill="#fbfbfb"/><rect x="622.6" y="174.4" width="8" height="2.6" fill="#fbfbfb"/><rect x="622.6" y="245" width="8" height="2.6" fill="#fbfbfb"/><rect x="634.2" y="174.4" width="8" height="2.6" fill="#fbfbfb"/><rect x="634.2" y="245" width="8" height="2.6" fill="#fbfbfb"/><rect x="645.8" y="174.4" width="8" height="2.6" fill="#fbfbfb"/><rect x="645.8" y="245" width="8" height="2.6" fill="#fbfbfb"/><rect x="657.4" y="174.4" width="8" height="2.6" fill="#fbfbfb"/><rect x="657.4" y="245" width="8" height="2.6" fill="#fbfbfb"/><rect x="669.0" y="174.4" width="8" height="2.6" fill="#fbfbfb"/><rect x="669.0" y="245" width="8" height="2.6" fill="#fbfbfb"/><rect x="545.3" y="181.0" width="3.2" height="6.5" fill="#fbfbfb"/><rect x="681" y="181.0" width="3.2" height="6.5" fill="#fbfbfb"/><rect x="545.3" y="191.5" width="3.2" height="6.5" fill="#fbfbfb"/><rect x="681" y="191.5" width="3.2" height="6.5" fill="#fbfbfb"/><rect x="545.3" y="202.0" width="3.2" height="6.5" fill="#fbfbfb"/><rect x="681" y="202.0" width="3.2" height="6.5" fill="#fbfbfb"/><rect x="545.3" y="212.5" width="3.2" height="6.5" fill="#fbfbfb"/><rect x="681" y="212.5" width="3.2" height="6.5" fill="#fbfbfb"/><rect x="545.3" y="223.0" width="3.2" height="6.5" fill="#fbfbfb"/><rect x="681" y="223.0" width="3.2" height="6.5" fill="#fbfbfb"/><rect x="545.3" y="233.5" width="3.2" height="6.5" fill="#fbfbfb"/><rect x="681" y="233.5" width="3.2" height="6.5" fill="#fbfbfb"/><path d="M546 182 Q546 175.5 552 175.5" fill="none" stroke="#fbfbfb" stroke-width="1.6"/><path d="M683 182 Q683 175.5 677 175.5" fill="none" stroke="#fbfbfb" stroke-width="1.6"/><path d="M546 240 Q546 246.5 552 246.5" fill="none" stroke="#fbfbfb" stroke-width="1.6"/><path d="M683 240 Q683 246.5 677 246.5" fill="none" stroke="#fbfbfb" stroke-width="1.6"/><rect x="553.5" y="178.5" width="1.9" height="65" fill="#c8c8c8"/><rect x="562.1" y="178.5" width="1.9" height="65" fill="#c8c8c8"/><rect x="570.7" y="178.5" width="1.9" height="65" fill="#c8c8c8"/><rect x="579.3" y="178.5" width="1.9" height="65" fill="#c8c8c8"/><rect x="587.9" y="178.5" width="1.9" height="65" fill="#c8c8c8"/><rect x="596.5" y="178.5" width="1.9" height="65" fill="#c8c8c8"/><rect x="605.1" y="178.5" width="1.9" height="65" fill="#c8c8c8"/><rect x="613.7" y="178.5" width="1.9" height="65" fill="#c8c8c8"/><rect x="622.3" y="178.5" width="1.9" height="65" fill="#c8c8c8"/><rect x="630.9" y="178.5" width="1.9" height="65" fill="#c8c8c8"/><rect x="639.5" y="178.5" width="1.9" height="65" fill="#c8c8c8"/><rect x="648.1" y="178.5" width="1.9" height="65" fill="#c8c8c8"/><rect x="656.7" y="178.5" width="1.9" height="65" fill="#c8c8c8"/><rect x="665.3" y="178.5" width="1.9" height="65" fill="#c8c8c8"/><rect x="673.9" y="178.5" width="1.9" height="65" fill="#c8c8c8"/><rect x="598" y="178.5" width="32" height="65" fill="#b2b2b2" opacity="0.5"/><circle cx="580" cy="194.0" r="2.6" fill="#c8c8c8"/><circle cx="580" cy="194.0" r="1.6" fill="#333"/><circle cx="580" cy="228.0" r="2.6" fill="#c8c8c8"/><circle cx="580" cy="228.0" r="1.6" fill="#333"/><circle cx="648" cy="194.0" r="2.6" fill="#c8c8c8"/><circle cx="648" cy="194.0" r="1.6" fill="#333"/><circle cx="648" cy="228.0" r="2.6" fill="#c8c8c8"/><circle cx="648" cy="228.0" r="1.6" fill="#333"/><circle cx="557" cy="184.0" r="1.2" fill="#888"/><circle cx="557" cy="238.0" r="1.2" fill="#888"/><circle cx="672" cy="184.0" r="1.2" fill="#888"/><circle cx="672" cy="238.0" r="1.2" fill="#888"/><rect x="566" y="197.0" width="97" height="28" rx="2.5" fill="#cbcbcb" stroke="#9a9a9a" stroke-width="0.8"/><circle cx="569" cy="200.0" r="1.6" fill="#e6e6e6" stroke="#999" stroke-width="0.5"/><circle cx="569" cy="222.0" r="1.6" fill="#e6e6e6" stroke="#999" stroke-width="0.5"/><circle cx="660" cy="200.0" r="1.6" fill="#e6e6e6" stroke="#999" stroke-width="0.5"/><circle cx="660" cy="222.0" r="1.6" fill="#e6e6e6" stroke="#999" stroke-width="0.5"/><rect x="569.5" y="208.0" width="10.5" height="4.5" fill="#262626"/><rect x="649" y="204.5" width="10.5" height="3.2" fill="#303030"/><rect x="649" y="212.5" width="10.5" height="3.2" fill="#303030"/><rect x="580" y="198.8" width="69" height="24.4" rx="1.5" fill="#e2e2e4" stroke="#9e9e9e" stroke-width="0.8"/><rect x="580.6" y="199.4" width="67.8" height="4.5" fill="#f3f3f4"/><rect x="580.6" y="219.0" width="67.8" height="3.6" fill="#d2d2d4"/><rect x="586" y="206.0" width="5" height="0.9" fill="#a8a8a8"/><rect x="586" y="210.0" width="5" height="0.9" fill="#a8a8a8"/><rect x="586" y="214.0" width="5" height="0.9" fill="#a8a8a8"/><rect x="594" y="205.5" width="18" height="1" fill="#b5b5b5"/><rect x="594" y="209.0" width="12" height="0.9" fill="#c0c0c0"/><rect x="594" y="212.0" width="14" height="0.9" fill="#c0c0c0"/><rect x="616.0" y="206.0" width="2.6" height="2.6" fill="#9a9a9a"/><rect x="616.0" y="210.5" width="2.6" height="2.6" fill="#a5a5a5"/><rect x="620.2" y="206.0" width="2.6" height="2.6" fill="#9a9a9a"/><rect x="620.2" y="210.5" width="2.6" height="2.6" fill="#a5a5a5"/><rect x="624.4" y="206.0" width="2.6" height="2.6" fill="#9a9a9a"/><rect x="624.4" y="210.5" width="2.6" height="2.6" fill="#a5a5a5"/><rect x="628.6" y="206.0" width="2.6" height="2.6" fill="#9a9a9a"/><rect x="628.6" y="210.5" width="2.6" height="2.6" fill="#a5a5a5"/><rect x="632" y="206.0" width="10" height="0.9" fill="#b8b8b8"/><rect x="632" y="210.0" width="10" height="0.9" fill="#b8b8b8"/><rect x="540" y="209" width="4" height="7" fill="#b8b8b8"/><rect x="685" y="209" width="4" height="7" fill="#b8b8b8"/><rect x="534.5" y="206" width="6" height="12.5" rx="1.5" fill="url(#knob)" stroke="#b0b0b0" stroke-width="0.5"/><rect x="688.5" y="206" width="6" height="12.5" rx="1.5" fill="url(#knob)" stroke="#b0b0b0" stroke-width="0.5"/><rect x="542" y="253.5" width="145" height="78" rx="8" fill="#c9c9c9" stroke="#989898" stroke-width="1.1"/><rect x="544.5" y="256.0" width="140" height="73" rx="6" fill="#c6c6c6" stroke="#a8a8a8" stroke-width="0.6"/><rect x="549" y="259.5" width="131" height="66" rx="2" fill="#b0b0b0" stroke="#9a9a9a" stroke-width="0.6"/><rect x="553.0" y="255.9" width="8" height="2.6" fill="#fbfbfb"/><rect x="553.0" y="326.5" width="8" height="2.6" fill="#fbfbfb"/><rect x="564.6" y="255.9" width="8" height="2.6" fill="#fbfbfb"/><rect x="564.6" y="326.5" width="8" height="2.6" fill="#fbfbfb"/><rect x="576.2" y="255.9" width="8" height="2.6" fill="#fbfbfb"/><rect x="576.2" y="326.5" width="8" height="2.6" fill="#fbfbfb"/><rect x="587.8" y="255.9" width="8" height="2.6" fill="#fbfbfb"/><rect x="587.8" y="326.5" width="8" height="2.6" fill="#fbfbfb"/><rect x="599.4" y="255.9" width="8" height="2.6" fill="#fbfbfb"/><rect x="599.4" y="326.5" width="8" height="2.6" fill="#fbfbfb"/><rect x="611.0" y="255.9" width="8" height="2.6" fill="#fbfbfb"/><rect x="611.0" y="326.5" width="8" height="2.6" fill="#fbfbfb"/><rect x="622.6" y="255.9" width="8" height="2.6" fill="#fbfbfb"/><rect x="622.6" y="326.5" width="8" height="2.6" fill="#fbfbfb"/><rect x="634.2" y="255.9" width="8" height="2.6" fill="#fbfbfb"/><rect x="634.2" y="326.5" width="8" height="2.6" fill="#fbfbfb"/><rect x="645.8" y="255.9" width="8" height="2.6" fill="#fbfbfb"/><rect x="645.8" y="326.5" width="8" height="2.6" fill="#fbfbfb"/><rect x="657.4" y="255.9" width="8" height="2.6" fill="#fbfbfb"/><rect x="657.4" y="326.5" width="8" height="2.6" fill="#fbfbfb"/><rect x="669.0" y="255.9" width="8" height="2.6" fill="#fbfbfb"/><rect x="669.0" y="326.5" width="8" height="2.6" fill="#fbfbfb"/><rect x="545.3" y="262.5" width="3.2" height="6.5" fill="#fbfbfb"/><rect x="681" y="262.5" width="3.2" height="6.5" fill="#fbfbfb"/><rect x="545.3" y="273.0" width="3.2" height="6.5" fill="#fbfbfb"/><rect x="681" y="273.0" width="3.2" height="6.5" fill="#fbfbfb"/><rect x="545.3" y="283.5" width="3.2" height="6.5" fill="#fbfbfb"/><rect x="681" y="283.5" width="3.2" height="6.5" fill="#fbfbfb"/><rect x="545.3" y="294.0" width="3.2" height="6.5" fill="#fbfbfb"/><rect x="681" y="294.0" width="3.2" height="6.5" fill="#fbfbfb"/><rect x="545.3" y="304.5" width="3.2" height="6.5" fill="#fbfbfb"/><rect x="681" y="304.5" width="3.2" height="6.5" fill="#fbfbfb"/><rect x="545.3" y="315.0" width="3.2" height="6.5" fill="#fbfbfb"/><rect x="681" y="315.0" width="3.2" height="6.5" fill="#fbfbfb"/><path d="M546 263.5 Q546 257.0 552 257.0" fill="none" stroke="#fbfbfb" stroke-width="1.6"/><path d="M683 263.5 Q683 257.0 677 257.0" fill="none" stroke="#fbfbfb" stroke-width="1.6"/><path d="M546 321.5 Q546 328.0 552 328.0" fill="none" stroke="#fbfbfb" stroke-width="1.6"/><path d="M683 321.5 Q683 328.0 677 328.0" fill="none" stroke="#fbfbfb" stroke-width="1.6"/><rect x="553.5" y="260.0" width="1.9" height="65" fill="#c8c8c8"/><rect x="562.1" y="260.0" width="1.9" height="65" fill="#c8c8c8"/><rect x="570.7" y="260.0" width="1.9" height="65" fill="#c8c8c8"/><rect x="579.3" y="260.0" width="1.9" height="65" fill="#c8c8c8"/><rect x="587.9" y="260.0" width="1.9" height="65" fill="#c8c8c8"/><rect x="596.5" y="260.0" width="1.9" height="65" fill="#c8c8c8"/><rect x="605.1" y="260.0" width="1.9" height="65" fill="#c8c8c8"/><rect x="613.7" y="260.0" width="1.9" height="65" fill="#c8c8c8"/><rect x="622.3" y="260.0" width="1.9" height="65" fill="#c8c8c8"/><rect x="630.9" y="260.0" width="1.9" height="65" fill="#c8c8c8"/><rect x="639.5" y="260.0" width="1.9" height="65" fill="#c8c8c8"/><rect x="648.1" y="260.0" width="1.9" height="65" fill="#c8c8c8"/><rect x="656.7" y="260.0" width="1.9" height="65" fill="#c8c8c8"/><rect x="665.3" y="260.0" width="1.9" height="65" fill="#c8c8c8"/><rect x="673.9" y="260.0" width="1.9" height="65" fill="#c8c8c8"/><rect x="598" y="260.0" width="32" height="65" fill="#b2b2b2" opacity="0.5"/><circle cx="580" cy="275.5" r="2.6" fill="#c8c8c8"/><circle cx="580" cy="275.5" r="1.6" fill="#333"/><circle cx="580" cy="309.5" r="2.6" fill="#c8c8c8"/><circle cx="580" cy="309.5" r="1.6" fill="#333"/><circle cx="648" cy="275.5" r="2.6" fill="#c8c8c8"/><circle cx="648" cy="275.5" r="1.6" fill="#333"/><circle cx="648" cy="309.5" r="2.6" fill="#c8c8c8"/><circle cx="648" cy="309.5" r="1.6" fill="#333"/><circle cx="557" cy="265.5" r="1.2" fill="#888"/><circle cx="557" cy="319.5" r="1.2" fill="#888"/><circle cx="672" cy="265.5" r="1.2" fill="#888"/><circle cx="672" cy="319.5" r="1.2" fill="#888"/><rect x="566" y="278.5" width="97" height="28" rx="2.5" fill="#cbcbcb" stroke="#9a9a9a" stroke-width="0.8"/><circle cx="569" cy="281.5" r="1.6" fill="#e6e6e6" stroke="#999" stroke-width="0.5"/><circle cx="569" cy="303.5" r="1.6" fill="#e6e6e6" stroke="#999" stroke-width="0.5"/><circle cx="660" cy="281.5" r="1.6" fill="#e6e6e6" stroke="#999" stroke-width="0.5"/><circle cx="660" cy="303.5" r="1.6" fill="#e6e6e6" stroke="#999" stroke-width="0.5"/><rect x="569.5" y="289.5" width="10.5" height="4.5" fill="#262626"/><rect x="649" y="286.0" width="10.5" height="3.2" fill="#303030"/><rect x="649" y="294.0" width="10.5" height="3.2" fill="#303030"/><rect x="580" y="280.3" width="69" height="24.4" rx="1.5" fill="#e2e2e4" stroke="#9e9e9e" stroke-width="0.8"/><rect x="580.6" y="280.9" width="67.8" height="4.5" fill="#f3f3f4"/><rect x="580.6" y="300.5" width="67.8" height="3.6" fill="#d2d2d4"/><rect x="586" y="287.5" width="5" height="0.9" fill="#a8a8a8"/><rect x="586" y="291.5" width="5" height="0.9" fill="#a8a8a8"/><rect x="586" y="295.5" width="5" height="0.9" fill="#a8a8a8"/><rect x="594" y="287.0" width="18" height="1" fill="#b5b5b5"/><rect x="594" y="290.5" width="12" height="0.9" fill="#c0c0c0"/><rect x="594" y="293.5" width="14" height="0.9" fill="#c0c0c0"/><rect x="616.0" y="287.5" width="2.6" height="2.6" fill="#9a9a9a"/><rect x="616.0" y="292.0" width="2.6" height="2.6" fill="#a5a5a5"/><rect x="620.2" y="287.5" width="2.6" height="2.6" fill="#9a9a9a"/><rect x="620.2" y="292.0" width="2.6" height="2.6" fill="#a5a5a5"/><rect x="624.4" y="287.5" width="2.6" height="2.6" fill="#9a9a9a"/><rect x="624.4" y="292.0" width="2.6" height="2.6" fill="#a5a5a5"/><rect x="628.6" y="287.5" width="2.6" height="2.6" fill="#9a9a9a"/><rect x="628.6" y="292.0" width="2.6" height="2.6" fill="#a5a5a5"/><rect x="632" y="287.5" width="10" height="0.9" fill="#b8b8b8"/><rect x="632" y="291.5" width="10" height="0.9" fill="#b8b8b8"/><rect x="540" y="290.5" width="4" height="7" fill="#b8b8b8"/><rect x="685" y="290.5" width="4" height="7" fill="#b8b8b8"/><rect x="534.5" y="287.5" width="6" height="12.5" rx="1.5" fill="url(#knob)" stroke="#b0b0b0" stroke-width="0.5"/><rect x="688.5" y="287.5" width="6" height="12.5" rx="1.5" fill="url(#knob)" stroke="#b0b0b0" stroke-width="0.5"/><rect x="538.6" y="136" width="1.8" height="92" fill="#a0a0a0"/><rect x="688.2" y="136" width="1.8" height="92" fill="#a0a0a0"/><rect x="575" y="168.5" width="28" height="3.5" rx="1.7" fill="#fafafa" stroke="#a8a8a8" stroke-width="0.5"/><rect x="628" y="168.5" width="28" height="3.5" rx="1.7" fill="#fafafa" stroke="#a8a8a8" stroke-width="0.5"/><rect x="575" y="250.5" width="28" height="3.5" rx="1.7" fill="#fafafa" stroke="#a8a8a8" stroke-width="0.5"/><rect x="628" y="250.5" width="28" height="3.5" rx="1.7" fill="#fafafa" stroke="#a8a8a8" stroke-width="0.5"/></svg>
<div class="t" style="top:398px">规格参数</div>
<div class="ln" style="top:427px"></div>
<div class="hd" style="top:439px"></div>
<div class="th" style="left:30px;top:440px;height:20px;line-height:20px;width:auto;text-align:left">型号</div>
<div class="th" style="left:52.5px;top:440.00px;height:20px;line-height:20px">模组数量</div>
<div class="th" style="left:134.5px;top:440.00px;height:20px;line-height:20px">功率</div>
<div class="th" style="left:233.8px;top:440.00px;height:20px;line-height:20px">灯体材质</div>
<div class="th" style="left:343px;top:440.00px;height:20px;line-height:20px">LED灯珠</div>
<div class="th" style="left:433px;top:440.00px;height:20px;line-height:20px">显色指数</div>
<div class="th" style="left:528px;top:440.00px;height:20px;line-height:20px">工作电压</div>
<div class="th" style="left:619.5px;top:440.00px;height:20px;line-height:20px">频率</div>
<div class="rw g" style="top:459.00px;height:18px"></div>
<div class="td" style="left:29.5px;top:460.00px;height:18px;line-height:18px;width:auto;text-align:left">GLT02-M3-X12</div>
<div class="td" style="left:52.5px;top:460.00px;height:18px;line-height:18px">12<span class="c">模</span></div>
<div class="td" style="left:134.5px;top:460.00px;height:18px;line-height:18px">450W</div>
<div class="td" style="left:233.8px;top:460.00px;height:18px;line-height:18px">ADC12<span class="c">压铸铝灯体</span></div>
<div class="td" style="letter-spacing:-0.3px;left:343px;top:460.00px;height:18px;line-height:18px">SMD 7070-144PCS</div>
<div class="td" style="letter-spacing:-0.3px;left:433px;top:460.00px;height:18px;line-height:18px">CRI≥70</div>
<div class="td" style="letter-spacing:-0.3px;left:528px;top:460.00px;height:18px;line-height:18px">AC100~277V</div>
<div class="td" style="left:619.5px;top:460.00px;height:18px;line-height:18px">50~60Hz</div>
<div class="rw l" style="top:477.00px;height:19px"></div>
<div class="td" style="left:29.5px;top:478.00px;height:19px;line-height:19px;width:auto;text-align:left">GLT02-M3-X12</div>
<div class="td" style="left:52.5px;top:478.00px;height:19px;line-height:19px">12<span class="c">模</span></div>
<div class="td" style="left:134.5px;top:478.00px;height:19px;line-height:19px">480W</div>
<div class="td" style="left:233.8px;top:478.00px;height:19px;line-height:19px">ADC12<span class="c">压铸铝灯体</span></div>
<div class="td" style="letter-spacing:-0.3px;left:343px;top:478.00px;height:19px;line-height:19px">SMD 7070-144PCS</div>
<div class="td" style="letter-spacing:-0.3px;left:433px;top:478.00px;height:19px;line-height:19px">CRI≥70</div>
<div class="td" style="letter-spacing:-0.3px;left:528px;top:478.00px;height:19px;line-height:19px">AC100~277V</div>
<div class="td" style="left:619.5px;top:478.00px;height:19px;line-height:19px">50~60Hz</div>
<div class="rw g" style="top:496.00px;height:18px"></div>
<div class="td" style="left:29.5px;top:497.00px;height:18px;line-height:18px;width:auto;text-align:left">GLT02-M3-X12</div>
<div class="td" style="left:52.5px;top:497.00px;height:18px;line-height:18px">12<span class="c">模</span></div>
<div class="td" style="left:134.5px;top:497.00px;height:18px;line-height:18px">500W</div>
<div class="td" style="left:233.8px;top:497.00px;height:18px;line-height:18px">ADC12<span class="c">压铸铝灯体</span></div>
<div class="td" style="letter-spacing:-0.3px;left:343px;top:497.00px;height:18px;line-height:18px">SMD 7070-144PCS</div>
<div class="td" style="letter-spacing:-0.3px;left:433px;top:497.00px;height:18px;line-height:18px">CRI≥70</div>
<div class="td" style="letter-spacing:-0.3px;left:528px;top:497.00px;height:18px;line-height:18px">AC100~277V</div>
<div class="td" style="left:619.5px;top:497.00px;height:18px;line-height:18px">50~60Hz</div>
<div class="rw l" style="top:514.00px;height:19px"></div>
<div class="td" style="left:29.5px;top:515.00px;height:19px;line-height:19px;width:auto;text-align:left">GLT02-M3-X12</div>
<div class="td" style="left:52.5px;top:515.00px;height:19px;line-height:19px">12<span class="c">模</span></div>
<div class="td" style="left:134.5px;top:515.00px;height:19px;line-height:19px">550W</div>
<div class="td" style="left:233.8px;top:515.00px;height:19px;line-height:19px">ADC12<span class="c">压铸铝灯体</span></div>
<div class="td" style="letter-spacing:-0.3px;left:343px;top:515.00px;height:19px;line-height:19px">SMD 7070-144PCS</div>
<div class="td" style="letter-spacing:-0.3px;left:433px;top:515.00px;height:19px;line-height:19px">CRI≥70</div>
<div class="td" style="letter-spacing:-0.3px;left:528px;top:515.00px;height:19px;line-height:19px">AC100~277V</div>
<div class="td" style="left:619.5px;top:515.00px;height:19px;line-height:19px">50~60Hz</div>
<div class="rw g" style="top:533.00px;height:19px"></div>
<div class="td" style="left:29.5px;top:534.00px;height:19px;line-height:19px;width:auto;text-align:left">GLT02-M3-X12</div>
<div class="td" style="left:52.5px;top:534.00px;height:19px;line-height:19px">12<span class="c">模</span></div>
<div class="td" style="left:134.5px;top:534.00px;height:19px;line-height:19px">600W</div>
<div class="td" style="left:233.8px;top:534.00px;height:19px;line-height:19px">ADC12<span class="c">压铸铝灯体</span></div>
<div class="td" style="letter-spacing:-0.3px;left:343px;top:534.00px;height:19px;line-height:19px">SMD 7070-144PCS</div>
<div class="td" style="letter-spacing:-0.3px;left:433px;top:534.00px;height:19px;line-height:19px">CRI≥70</div>
<div class="td" style="letter-spacing:-0.3px;left:528px;top:534.00px;height:19px;line-height:19px">AC100~277V</div>
<div class="td" style="left:619.5px;top:534.00px;height:19px;line-height:19px">50~60Hz</div>
<div class="hd" style="top:568px"></div>
<div class="th" style="left:-42.5px;top:569.00px;height:20px;line-height:20px">功率因数</div>
<div class="th" style="left:62.5px;top:569.00px;height:20px;line-height:20px">工作环境温度</div>
<div class="th" style="left:175px;top:569.00px;height:20px;line-height:20px">防护等级</div>
<div class="th" style="left:277px;top:569.00px;height:20px;line-height:20px">冲击力等级</div>
<div class="th" style="left:379px;top:569.00px;height:20px;line-height:20px">相关色温</div>
<div class="th" style="left:494px;top:569.00px;height:20px;line-height:20px">整灯光效</div>
<div class="th" style="left:615.5px;top:569.00px;height:20px;line-height:20px">光通量</div>
<div class="rw g" style="top:588.00px;height:18px"></div>
<div class="td" style="left:-42.5px;top:589.00px;height:18px;line-height:18px">≥0.95</div>
<div class="td" style="left:62.5px;top:589.00px;height:18px;line-height:18px">-40°C~50°C</div>
<div class="td" style="left:175px;top:589.00px;height:18px;line-height:18px">IP66</div>
<div class="td" style="left:277px;top:589.00px;height:18px;line-height:18px">IK08</div>
<div class="td" style="left:379px;top:589.00px;height:18px;line-height:18px">2700K~5000K</div>
<div class="td" style="left:494px;top:589.00px;height:18px;line-height:18px">160-180lm/W</div>
<div class="td" style="right:32px;left:auto;width:auto;text-align:right;top:589.00px;height:18px;line-height:18px">72000-81000lm</div>
<div class="rw l" style="top:606.00px;height:19px"></div>
<div class="td" style="left:-42.5px;top:607.00px;height:19px;line-height:19px">≥0.95</div>
<div class="td" style="left:62.5px;top:607.00px;height:19px;line-height:19px">-40°C~50°C</div>
<div class="td" style="left:175px;top:607.00px;height:19px;line-height:19px">IP66</div>
<div class="td" style="left:277px;top:607.00px;height:19px;line-height:19px">IK08</div>
<div class="td" style="left:379px;top:607.00px;height:19px;line-height:19px">2700K~5000K</div>
<div class="td" style="left:494px;top:607.00px;height:19px;line-height:19px">160-180lm/W</div>
<div class="td" style="right:32px;left:auto;width:auto;text-align:right;top:607.00px;height:19px;line-height:19px">76800-86400lm</div>
<div class="rw g" style="top:625.00px;height:18px"></div>
<div class="td" style="left:-42.5px;top:626.00px;height:18px;line-height:18px">≥0.95</div>
<div class="td" style="left:62.5px;top:626.00px;height:18px;line-height:18px">-40°C~50°C</div>
<div class="td" style="left:175px;top:626.00px;height:18px;line-height:18px">IP66</div>
<div class="td" style="left:277px;top:626.00px;height:18px;line-height:18px">IK08</div>
<div class="td" style="left:379px;top:626.00px;height:18px;line-height:18px">2700K~5000K</div>
<div class="td" style="left:494px;top:626.00px;height:18px;line-height:18px">160-180lm/W</div>
<div class="td" style="right:32px;left:auto;width:auto;text-align:right;top:626.00px;height:18px;line-height:18px">80000-90000lm</div>
<div class="rw l" style="top:643.00px;height:19px"></div>
<div class="td" style="left:-42.5px;top:644.00px;height:19px;line-height:19px">≥0.95</div>
<div class="td" style="left:62.5px;top:644.00px;height:19px;line-height:19px">-40°C~50°C</div>
<div class="td" style="left:175px;top:644.00px;height:19px;line-height:19px">IP66</div>
<div class="td" style="left:277px;top:644.00px;height:19px;line-height:19px">IK08</div>
<div class="td" style="left:379px;top:644.00px;height:19px;line-height:19px">2700K~5000K</div>
<div class="td" style="left:494px;top:644.00px;height:19px;line-height:19px">160-180lm/W</div>
<div class="td" style="right:32px;left:auto;width:auto;text-align:right;top:644.00px;height:19px;line-height:19px">88000-99000lm</div>
<div class="rw g" style="top:662.00px;height:19px"></div>
<div class="td" style="left:-42.5px;top:663.00px;height:19px;line-height:19px">≥0.95</div>
<div class="td" style="left:62.5px;top:663.00px;height:19px;line-height:19px">-40°C~50°C</div>
<div class="td" style="left:175px;top:663.00px;height:19px;line-height:19px">IP66</div>
<div class="td" style="left:277px;top:663.00px;height:19px;line-height:19px">IK08</div>
<div class="td" style="left:379px;top:663.00px;height:19px;line-height:19px">2700K~5000K</div>
<div class="td" style="left:494px;top:663.00px;height:19px;line-height:19px">160-180lm/W</div>
<div class="td" style="right:32px;left:auto;width:auto;text-align:right;top:663.00px;height:19px;line-height:19px">96000-108000lm</div>
</body></html>
